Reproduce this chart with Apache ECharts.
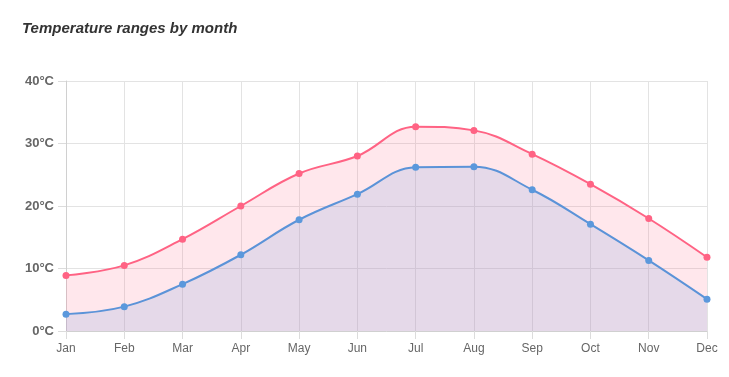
<!DOCTYPE html>
<html>
<head>
<meta charset="utf-8">
<script src="https://cdn.jsdelivr.net/npm/echarts@6/dist/echarts.min.js"></script>
<style>
  html, body { margin: 0; padding: 0; background: #fff; }
  #main { width: 729px; height: 377px; }
</style>
</head>
<body>
<div id="main"></div>
<script>
// 月份和温度数据
const months = ['Jan', 'Feb', 'Mar', 'Apr', 'May', 'Jun', 'Jul', 'Aug', 'Sep', 'Oct', 'Nov', 'Dec'];
const maxTemps = [8.9, 10.5, 14.7, 20.0, 25.2, 28.0, 32.7, 32.1, 28.3, 23.5, 18.0, 11.8];
const minTemps = [2.7, 3.9, 7.5, 12.2, 17.8, 21.9, 26.2, 26.3, 22.6, 17.1, 11.3, 5.1];
const yTicks = [0, 10, 20, 30, 40];

let chart = echarts.init(document.getElementById('main'));
chart.setOption({
  animation: false,
  textStyle: { fontFamily: 'Liberation Sans, Arial, sans-serif' },
  title: {
    text: 'Temperature ranges by month',
    left: 17,
    top: 16,
    textStyle: { fontSize: 15, fontWeight: 'bold', fontStyle: 'italic', color: '#333' }
  },
  grid: { left: 66, right: 22, top: 81, bottom: 46 },
  xAxis: {
    type: 'category',
    data: months,
    boundaryGap: false,
    axisLine: { lineStyle: { color: '#d0d0d0' } },
    axisTick: { show: true, length: 8, lineStyle: { color: '#dcdcdc' } },
    axisLabel: { color: '#666', fontSize: 12, margin: 12 },
    splitLine: { show: true, lineStyle: { color: '#e3e3e3' } }
  },
  yAxis: {
    type: 'value',
    min: yTicks[0],
    max: yTicks[yTicks.length - 1],
    interval: 10,
    axisLine: { show: true, lineStyle: { color: '#d0d0d0' } },
    axisTick: { show: true, length: 8, lineStyle: { color: '#dcdcdc' } },
    axisLabel: { color: '#666', fontSize: 13, fontWeight: 'bold', margin: 12, formatter: '{value}°C' },
    splitLine: { lineStyle: { color: '#e3e3e3' } }
  },
  series: [
    {
      name: 'Max',
      type: 'line',
      data: maxTemps,
      smooth: 0.4,
      symbol: 'circle',
      symbolSize: 7,
      lineStyle: { color: '#ff6384', width: 2 },
      itemStyle: { color: '#ff6384' },
      areaStyle: { color: 'rgba(255,99,132,0.22)' }
    },
    {
      name: 'Min',
      type: 'line',
      data: minTemps,
      smooth: 0.4,
      symbol: 'circle',
      symbolSize: 7,
      lineStyle: { color: '#5b93d8', width: 2 },
      itemStyle: { color: '#5b98dc' },
      areaStyle: { color: 'rgba(140,170,225,0.32)' }
    }
  ]
});
</script>
</body>
</html>
